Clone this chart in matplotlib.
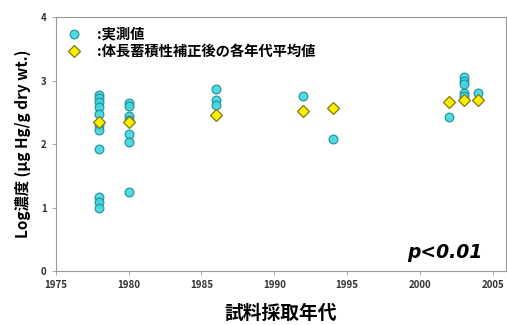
import matplotlib
matplotlib.use("Agg")
import matplotlib.pyplot as plt

plt.rcParams['font.family'] = ['Noto Sans CJK JP', 'DejaVu Sans']

# 実測値 (measured values)
meas_year = [1978] * 11 + [1980] * 7 + [1986] * 3 + [1992, 1994, 2002] + [2003] * 5 + [2004]
meas_val = [2.77, 2.72, 2.66, 2.59, 2.47, 2.30, 2.22, 1.92, 1.17, 1.08, 0.99,
            2.64, 2.60, 2.44, 2.38, 2.16, 2.03, 1.25,
            2.87, 2.69, 2.62,
            2.76, 2.08, 2.43,
            3.05, 3.00, 2.94, 2.80, 2.76,
            2.81]

# 体長蓄積性補正後の各年代平均値 (corrected means)
mean_year = [1978, 1980, 1986, 1992, 1994, 2002, 2003, 2004]
mean_val = [2.34, 2.35, 2.45, 2.52, 2.56, 2.67, 2.69, 2.70]

fig = plt.figure(figsize=(5.07, 3.25), dpi=100)
ax = fig.add_axes([0.110, 0.166, 0.888, 0.7815])

ax.plot(meas_year, meas_val, "o", ms=6.3, mfc="#3ED8DC", mec="#1E8E9C", mew=0.9,
        alpha=0.9, label=":実測値", zorder=3)
ax.plot(mean_year, mean_val, "D", ms=6, mfc="#FFEE00", mec="#7F7A10", mew=0.9,
        label=":体長蓄積性補正後の各年代平均値", zorder=4)

ax.set_xlim(1975, 2005.9)
ax.set_ylim(0, 4)
ax.set_xticks(range(1975, 2006, 5))
ax.set_yticks(range(0, 5))
for s in ax.spines.values():
    s.set_color("#999999")
    s.set_linewidth(0.8)
ax.tick_params(axis="both", labelsize=7, colors="#999999", labelcolor="#333333",
               length=3, width=0.6, direction="out")
for lbl in ax.get_xticklabels() + ax.get_yticklabels():
    lbl.set_fontweight("bold")

ax.set_ylabel("Log濃度 (μg Hg/g dry wt.)", fontsize=11, fontweight="bold", labelpad=7)
ax.set_xlabel("試料採取年代", fontsize=13.5, fontweight="bold", labelpad=10)

ax.legend(loc="upper left", frameon=False, handletextpad=1.1,
          borderaxespad=0.35, borderpad=0.4, labelspacing=0.2, handlelength=1.0,
          prop={"weight": "bold", "size": 10.3})

ax.text(0.864, 0.075, "p<0.01", transform=ax.transAxes, ha="center", va="center",
        fontsize=13.5, fontweight="bold", fontstyle="italic", family="DejaVu Sans")

fig.savefig("out.png", dpi=100)
